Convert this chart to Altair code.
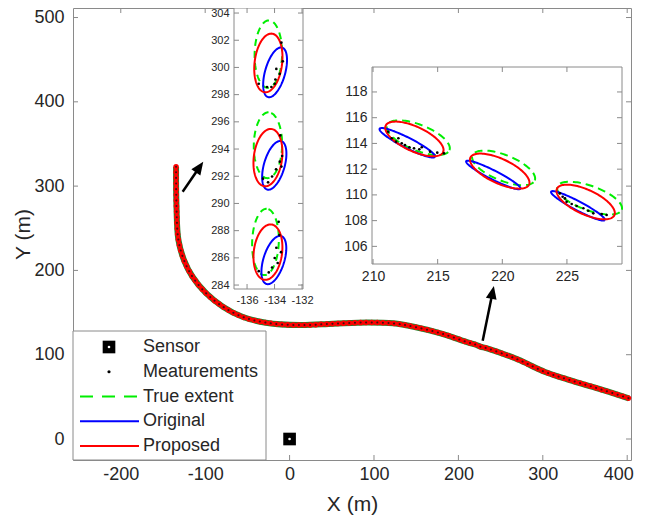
import altair as alt
import numpy as np
import pandas as pd

# ---------------- data ----------------
# main trajectory (track centre)
traj_x = [-134.5, -134.0, -131.7, -125.0, -115.0, -99.0, -79.0, -56.0, -28.0, 12.0, 52.0, 92.0,
          123.0, 147.0, 179.0, 212.0, 220.0, 226.0, 234.0, 270.0, 302.0, 329.0, 361.0, 402.0]
traj_y = [323.0, 275.6, 236.0, 212.0, 192.5, 173.0, 157.0, 145.0, 138.0, 135.2, 136.8, 138.2,
          137.2, 133.2, 125.4, 114.4, 112.1, 109.6, 107.6, 94.5, 79.8, 70.8, 61.3, 48.3]
sensor_x = [0.0]
sensor_y = [0.0]

# arrows (tail -> tip) in main-plot data units, angle of head in degrees (screen)
arrow_tail_x = [-126.7, 228.8]
arrow_tail_y = [293.4, 116.6]
arrow_tip_x = [-102.3, 242.0]
arrow_tip_y = [329.0, 181.5]
arrow_angle = [34.5, 11.7]

main_xlim = [-256.6, 404.5]
main_ylim = [-24.9, 511.3]
main_xticks = [-200, -100, 0, 100, 200, 300, 400]
main_yticks = [0, 100, 200, 300, 400, 500]

# inset 1 : ellipses (centre x, centre y, semi-axis along angle, other semi-axis, angle deg)
in1_true_cx = [-134.45, -134.48, -134.66]
in1_true_cy = [300.98, 294.28, 287.17]
in1_true_a = [2.48, 2.42, 2.44]
in1_true_b = [1.00, 1.03, 0.97]
in1_true_ang = [89, 89, 88]
in1_orig_cx = [-133.96, -134.02, -134.05]
in1_orig_cy = [299.64, 292.80, 285.84]
in1_orig_a = [1.89, 1.85, 1.84]
in1_orig_b = [0.73, 0.75, 0.76]
in1_orig_ang = [74.4, 74.0, 73.0]
in1_prop_cx = [-134.45, -134.48, -134.48]
in1_prop_cy = [300.33, 293.37, 286.42]
in1_prop_a = [2.17, 2.12, 2.05]
in1_prop_b = [1.00, 1.03, 1.03]
in1_prop_ang = [83, 83, 83]
in1_meas_x = [-133.50, -133.40, -133.87, -133.62, -133.94, -133.99, -134.23, -134.55, -135.15,
              -133.58, -133.45, -133.62, -133.50, -133.89, -134.18, -134.47, -134.84,
              -133.70, -133.65, -133.87, -133.53, -133.99, -133.77, -134.18, -134.42, -135.15]
in1_meas_y = [301.82, 300.45, 299.89, 299.53, 299.11, 298.80, 298.56, 298.56, 298.80,
              295.00, 293.49, 293.07, 292.71, 292.51, 291.98, 291.55, 291.82,
              288.65, 287.68, 286.74, 286.42, 285.99, 285.62, 285.29, 284.93, 285.02]
in1_xlim = [-136.95, -131.93]
in1_ylim = [283.71, 304.37]
in1_xticks = [-136, -134, -132]
in1_yticks = [284, 286, 288, 290, 292, 294, 296, 298, 300, 302, 304]

# inset 2
in2_true_cx = [213.5, 220.1, 226.75]
in2_true_cy = [114.45, 112.1, 109.75]
in2_true_a = [2.6, 2.6, 2.65]
in2_true_b = [1.0, 1.0, 0.95]
in2_true_ang = [-22, -22, -20]
in2_orig_cx = [212.65, 219.3, 225.85]
in2_orig_cy = [114.05, 111.55, 109.15]
in2_orig_a = [2.4, 2.35, 2.35]
in2_orig_b = [0.4, 0.35, 0.35]
in2_orig_ang = [-27, -27, -28]
in2_prop_cx = [213.2, 219.8, 226.45]
in2_prop_cy = [114.35, 111.85, 109.45]
in2_prop_a = [2.45, 2.5, 2.45]
in2_prop_b = [0.95, 0.95, 0.95]
in2_prop_ang = [-25, -25, -25]
in2_meas_x = [211.18, 211.45, 211.78, 211.96, 212.22, 212.47, 212.81, 213.17, 213.58, 213.77,
              214.41, 214.97, 215.49, 224.46, 224.67, 224.85, 224.98, 225.37, 225.75, 226.27,
              226.65, 227.04, 227.69, 228.07]
in2_meas_y = [114.91, 114.40, 114.14, 114.40, 114.01, 113.88, 113.70, 113.62, 113.54, 113.70,
              113.36, 113.28, 113.23, 110.12, 109.86, 109.73, 109.47, 109.29, 109.14, 108.96,
              108.77, 108.57, 108.51, 108.44]
in2_xlim = [209.92, 229.26]
in2_ylim = [104.63, 119.94]
in2_xticks = [210, 215, 220, 225]
in2_yticks = [106, 108, 110, 112, 114, 116, 118]

legend_labels = ["Sensor", "Meaturements", "True extent", "Original", "Proposed"]

# ---------------- style / layout ----------------
W, H = 558, 452
FONT = "Liberation Sans"
FRAME = "#8a8a8a"
TEXT = "#262626"
GREEN, BLUE, RED = "#00ee00", "#0000ff", "#ff0000"
IN1_PX = (161, 230, 0, 281)   # left, right, top, bottom (pixels in plot area)
IN2_PX = (299, 549, 59, 256)
TL = 5  # inward tick length


def ellipse_df(cx, cy, a, b, ang):
    rows = []
    t = np.linspace(0, 2 * np.pi, 121)
    for e in range(len(cx)):
        ph = np.deg2rad(ang[e])
        xs = cx[e] + a[e] * np.cos(ph) * np.cos(t) - b[e] * np.sin(ph) * np.sin(t)
        ys = cy[e] + a[e] * np.sin(ph) * np.cos(t) + b[e] * np.cos(ph) * np.sin(t)
        for k in range(len(t)):
            rows.append({"x": xs[k], "y": ys[k], "e": e, "k": k})
    return pd.DataFrame(rows)


def lbl_axis(values, orient, offset, size, pad, title=None, tpad=0, tsize=21, flush=False):
    kw = dict(values=values, orient=orient, offset=offset, ticks=False, tickSize=0, domain=False,
              grid=False, labelFontSize=size, labelPadding=pad, labelFlush=flush,
              labelOverlap=False, labelExpr="'' + datum.value", labelColor=TEXT, labelFont=FONT)
    if flush:
        kw["labelFlushOffset"] = 6
    if title is None:
        kw["title"] = None
    else:
        kw.update(title=title, titlePadding=tpad, titleFontSize=tsize, titleFont=FONT,
                  titleColor=TEXT, titleFontWeight="normal")
    return alt.Axis(**kw)


def frame_ticks(xvals, yvals, xs, ys, axx, axy, px):
    x0, x1, y0, y1 = px
    bx = alt.Chart(pd.DataFrame({"tv": xvals})).mark_rule(color=FRAME, strokeWidth=1)
    by = alt.Chart(pd.DataFrame({"tv": yvals})).mark_rule(color=FRAME, strokeWidth=1)
    X = alt.X("tv:Q", scale=xs, axis=axx)
    Y = alt.Y("tv:Q", scale=ys, axis=axy)
    return [
        bx.encode(x=X, y=alt.value(y1), y2=alt.value(y1 - TL)),
        bx.encode(x=X, y=alt.value(y0), y2=alt.value(y0 + TL)),
        by.encode(y=Y, x=alt.value(x0), x2=alt.value(x0 + TL)),
        by.encode(y=Y, x=alt.value(x1), x2=alt.value(x1 - TL)),
    ]


# ---------------- main panel ----------------
XS = alt.Scale(domain=main_xlim, nice=False, zero=False)
YS = alt.Scale(domain=main_ylim, nice=False, zero=False)
AX = lbl_axis(main_xticks, "bottom", 0, 18, 5, "X (m)", 10, flush=5)
AY = lbl_axis(main_yticks, "left", 0, 18, 9, "Y (m)", 0)

traj = pd.DataFrame({"x": traj_x, "y": traj_y, "i": list(range(len(traj_x)))})
tb = alt.Chart(traj).encode(x=alt.X("x:Q", scale=XS, axis=AX), y=alt.Y("y:Q", scale=YS, axis=AY),
                            order="i:Q")
t_green = tb.mark_line(color="#2f7a2a", strokeWidth=6, interpolate="catmull-rom")
t_red = tb.mark_line(color=RED, strokeWidth=3.5, interpolate="catmull-rom")
t_reddots = tb.mark_line(color=RED, strokeWidth=5.5, strokeDash=[0.1, 5.5], strokeCap="round",
                         interpolate="catmull-rom")
t_blk = tb.mark_line(color="#111111", strokeWidth=2, strokeDash=[0.1, 5.5], strokeCap="round",
                     interpolate="catmull-rom", opacity=0.8)

sens = pd.DataFrame({"x": sensor_x, "y": sensor_y})
sb = alt.Chart(sens).encode(x=alt.X("x:Q", scale=XS, axis=AX), y=alt.Y("y:Q", scale=YS, axis=AY))
s_sq = sb.mark_point(shape="square", filled=True, size=160, color="black", opacity=1)
s_dot = sb.mark_point(shape="circle", filled=True, size=7, color="white", opacity=1)

arr = pd.DataFrame({"tx": arrow_tail_x, "ty": arrow_tail_y, "hx": arrow_tip_x, "hy": arrow_tip_y,
                    "ang": arrow_angle})
arr["ex"] = arr["tx"] + 0.8 * (arr["hx"] - arr["tx"])
arr["ey"] = arr["ty"] + 0.8 * (arr["hy"] - arr["ty"])
a_line = alt.Chart(arr).mark_rule(color="black", strokeWidth=2.5).encode(
    x=alt.X("tx:Q", scale=XS, axis=AX), y=alt.Y("ty:Q", scale=YS, axis=AY), x2="ex:Q", y2="ey:Q")
a_head = alt.Chart(arr).mark_point(shape="M0,0L-0.42,1L0.42,1Z", filled=True, color="black",
                                   size=676, opacity=1).encode(
    x=alt.X("hx:Q", scale=XS, axis=AX), y=alt.Y("hy:Q", scale=YS, axis=AY),
    angle=alt.Angle("ang:Q", scale=None))

main = alt.layer(t_green, t_red, t_reddots, t_blk, s_sq, s_dot, a_line, a_head,
                 *frame_ticks(main_xticks, main_yticks, XS, YS, AX, AY, (0, W, 0, H)))


# ---------------- insets ----------------
def inset(px, xlim, ylim, xticks, yticks, tr, og, pr, mx, my, fsize, dash):
    x0, x1, y0, y1 = px
    xs = alt.Scale(domain=xlim, range=[x0, x1], nice=False, zero=False)
    ys = alt.Scale(domain=ylim, range=[y1, y0], nice=False, zero=False)
    axx = lbl_axis(xticks, "bottom", y1 - H, fsize, 5)
    axy = lbl_axis(yticks, "left", -x0, fsize, 5)
    box = alt.Chart(pd.DataFrame({"z": [0]})).mark_rect(fill="white", stroke=FRAME,
                                                        strokeWidth=1).encode(
        x=alt.value(x0), x2=alt.value(x1), y=alt.value(y0), y2=alt.value(y1))

    def ell(params, color, sd):
        kw = dict(color=color, strokeWidth=2)
        if sd:
            kw["strokeDash"] = sd
        return alt.Chart(ellipse_df(*params)).mark_line(**kw).encode(
            x=alt.X("x:Q", scale=xs, axis=axx), y=alt.Y("y:Q", scale=ys, axis=axy),
            detail="e:N", order="k:Q")

    dots = alt.Chart(pd.DataFrame({"x": mx, "y": my})).mark_point(
        shape="circle", filled=True, size=7, color="black", opacity=1).encode(
        x=alt.X("x:Q", scale=xs, axis=axx), y=alt.Y("y:Q", scale=ys, axis=axy))
    return alt.layer(box, ell(tr, GREEN, dash), ell(og, BLUE, None), ell(pr, RED, None), dots,
                     *frame_ticks(xticks, yticks, xs, ys, axx, axy, px))


inset1 = inset(IN1_PX, in1_xlim, in1_ylim, in1_xticks, in1_yticks,
               (in1_true_cx, in1_true_cy, in1_true_a, in1_true_b, in1_true_ang),
               (in1_orig_cx, in1_orig_cy, in1_orig_a, in1_orig_b, in1_orig_ang),
               (in1_prop_cx, in1_prop_cy, in1_prop_a, in1_prop_b, in1_prop_ang),
               in1_meas_x, in1_meas_y, 11, [7, 5])
inset2 = inset(IN2_PX, in2_xlim, in2_ylim, in2_xticks, in2_yticks,
               (in2_true_cx, in2_true_cy, in2_true_a, in2_true_b, in2_true_ang),
               (in2_orig_cx, in2_orig_cy, in2_orig_a, in2_orig_b, in2_orig_ang),
               (in2_prop_cx, in2_prop_cy, in2_prop_a, in2_prop_b, in2_prop_ang),
               in2_meas_x, in2_meas_y, 14, [8, 5])

# ---------------- legend (drawn box) ----------------
LG = (0, 193, 323, H)
row_y = [339 + 24.75 * i for i in range(len(legend_labels))]
one = pd.DataFrame({"z": [0]})
lg_box = alt.Chart(one).mark_rect(fill="white", stroke=FRAME, strokeWidth=1).encode(
    x=alt.value(LG[0]), x2=alt.value(LG[1]), y=alt.value(LG[2]), y2=alt.value(LG[3]))
lg_sq = alt.Chart(one).mark_point(shape="square", filled=True, size=160, color="black",
                                  opacity=1).encode(x=alt.value(36), y=alt.value(row_y[0]))
lg_sqdot = alt.Chart(one).mark_point(shape="circle", filled=True, size=7, color="white",
                                     opacity=1).encode(x=alt.value(36), y=alt.value(row_y[0]))
lg_meas = alt.Chart(one).mark_point(shape="circle", filled=True, size=10, color="black",
                                    opacity=1).encode(x=alt.value(36), y=alt.value(row_y[1]))
lg_lines = []
for yy, col, sd in [(row_y[2], GREEN, [13, 9]), (row_y[3], BLUE, None), (row_y[4], RED, None)]:
    kw = dict(color=col, strokeWidth=2)
    if sd:
        kw["strokeDash"] = sd
    lg_lines.append(alt.Chart(one).mark_rule(**kw).encode(
        x=alt.value(7), x2=alt.value(66), y=alt.value(yy)))
lg_text = alt.Chart(pd.DataFrame({"t": legend_labels, "py": row_y})).mark_text(
    align="left", baseline="middle", font=FONT, fontSize=18, color=TEXT).encode(
    x=alt.value(70), y=alt.Y("py:Q", scale=None, axis=None), text="t:N")
legend = alt.layer(lg_box, lg_sq, lg_sqdot, lg_meas, *lg_lines, lg_text)

chart = alt.layer(main, inset1, inset2, legend).resolve_scale(
    x="independent", y="independent").properties(
    width=W, height=H,
    padding={"left": 65, "top": 0, "right": 6, "bottom": 58},
    autosize=alt.AutoSizeParams(type="none"),
    background="white",
).configure_view(stroke=FRAME, strokeWidth=1)

chart.save("out.html", embed_options={"renderer": "svg", "actions": False})
